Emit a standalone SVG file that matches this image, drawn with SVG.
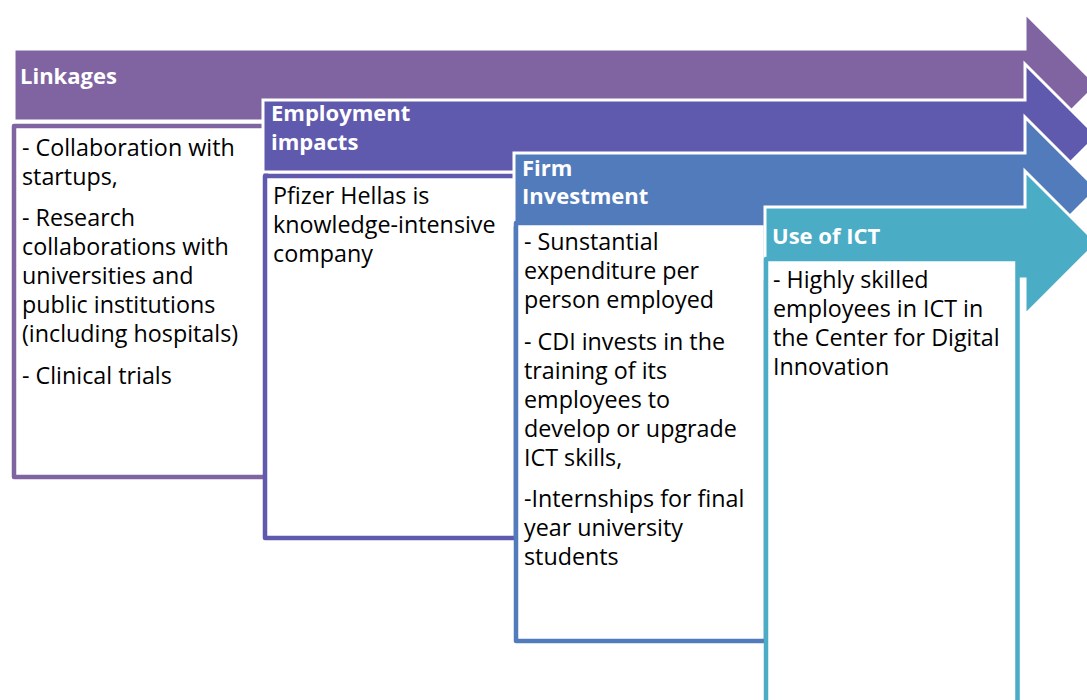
<svg xmlns="http://www.w3.org/2000/svg" width="1087" height="700" viewBox="0 0 1087 700">
<style>
.band{stroke:#fff;stroke-width:3;stroke-linejoin:miter}
.box{fill:#fff;stroke-width:4.5;stroke-linejoin:round}
.hd{font-family:"Open Sans","Liberation Sans",sans-serif;font-weight:bold;font-size:22px;fill:#fff}
.tx{font-family:"Open Sans","Liberation Sans",sans-serif;font-size:23.3px;fill:#000}
</style>
<rect width="1087" height="700" fill="#fff"/>
<g id="node-linkages">
<polygon class="band" fill="#8064A2" points="14,49 1025,49 1025,13 1097,85 1025,157 1025,121 14,121"/>
<text class="hd" x="20" y="84">Linkages</text>
<rect class="box" stroke="#8064A2" x="14" y="126" width="252" height="351"/>
<text class="tx" x="22"><tspan x="22" y="156">- Collaboration with</tspan><tspan x="22" y="185">startups,</tspan><tspan x="22" y="226">- Research</tspan><tspan x="22" y="255">collaborations with</tspan><tspan x="22" y="284">universities and</tspan><tspan x="22" y="313">public institutions</tspan><tspan x="22" y="342">(including hospitals)</tspan><tspan x="22" y="384">- Clinical trials</tspan></text>
</g>
<g id="node-employment">
<polygon class="band" fill="#5F5AAD" points="263,100 1025,100 1025,64 1097,136 1025,208 1025,172 263,172"/>
<text class="hd"><tspan x="271" y="121">Employment</tspan><tspan x="271" y="150">impacts</tspan></text>
<rect class="box" stroke="#5F5AAD" x="265" y="176" width="251" height="362"/>
<text class="tx"><tspan x="273" y="204">Pfizer Hellas is</tspan><tspan x="273" y="233">knowledge-intensive</tspan><tspan x="273" y="262">company</tspan></text>
</g>
<g id="node-firm-investment">
<polygon class="band" fill="#527BBB" points="514,153 1025,153 1025,117 1097,189 1025,261 1025,225 514,225"/>
<text class="hd"><tspan x="522" y="176">Firm</tspan><tspan x="522" y="204">Investment</tspan></text>
<rect class="box" stroke="#527BBB" x="516" y="223" width="250" height="418"/>
<text class="tx"><tspan x="524" y="250">- Sunstantial</tspan><tspan x="524" y="279">expenditure per</tspan><tspan x="524" y="308">person employed</tspan><tspan x="524" y="350">- CDI invests in the</tspan><tspan x="524" y="379">training of its</tspan><tspan x="524" y="408">employees to</tspan><tspan x="524" y="437">develop or upgrade</tspan><tspan x="524" y="466">ICT skills,</tspan><tspan x="524" y="507">-Internships for final</tspan><tspan x="524" y="536">year university</tspan><tspan x="524" y="565">students</tspan></text>
</g>
<g id="node-ict">
<polygon class="band" fill="#4BACC6" points="765,207 1025,207 1025,171 1097,243 1025,315 1025,279 765,279"/>
<text class="hd" x="772" y="244">Use of ICT</text>
<rect class="box" stroke="#4BACC6" x="766" y="259" width="251.5" height="461"/>
<line x1="1021.5" y1="281" x2="1021.5" y2="700" stroke="#fff" stroke-width="3"/>
<text class="tx"><tspan x="773" y="288">- Highly skilled</tspan><tspan x="773" y="317">employees in ICT in</tspan><tspan x="773" y="346">the Center for Digital</tspan><tspan x="773" y="375">Innovation</tspan></text>
</g>
</svg>
